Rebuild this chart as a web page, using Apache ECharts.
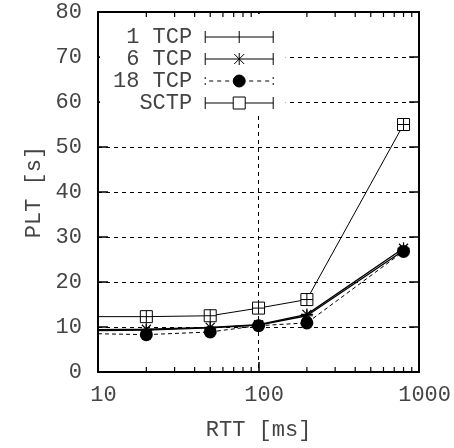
<!DOCTYPE html>
<html>
<head>
<meta charset="utf-8">
<script src="https://cdn.jsdelivr.net/npm/echarts@6/dist/echarts.min.js"></script>
<style>
html,body{margin:0;padding:0;background:#fff;}
#chart{width:454px;height:448px;}
</style>
</head>
<body>
<div id="chart"></div>
<script>
// ---- data ----
const rttValues = [10, 20, 50, 100, 200, 800];
const tcp1 = [9.2, 9.3, 9.8, 10.4, 12.5, 27.0];
const tcp6 = [9.4, 9.5, 9.9, 10.5, 12.8, 27.5];
const tcp18 = [8.5, 8.3, 8.9, 10.3, 10.9, 26.8];
const sctp = [12.3, 12.3, 12.5, 14.2, 16.1, 55.0];
const seriesNames = ['1 TCP', '6 TCP', '18 TCP', 'SCTP'];
const legendLabels = [' 1 TCP', ' 6 TCP', '18 TCP', '  SCTP'];
const minorTickValues = [20, 30, 40, 50, 60, 70, 80, 90, 200, 300, 400, 500, 600, 700, 800, 900];

const FONT = '"Liberation Mono", "DejaVu Sans Mono", monospace';
const TXT = '#444';

function toData(arr) {
  return rttValues.map((x, i) => i === 0 ? { value: [x, arr[i]], symbol: 'none' } : [x, arr[i]]);
}

const symPlus = 'path://M6,0V12M0,6H12';
const symStar = 'path://M6,0V12M0,6H12M1.5,1.5L10.5,10.5M10.5,1.5L1.5,10.5';
const symCircle = 'path://M12,6A6,6 0 1 1 0,6A6,6 0 1 1 12,6Z';
const symSquare = 'path://M0,0H12V12H0ZM6,0V12M0,6H12';

// legend icons (error-bar style)
const iconSolidPlus = 'path://M0,0V12M0,6H68M68,0V12M34,0V12';
const iconSolidStar = 'path://M0,0V12M0,6H68M68,0V12M34,0V12M29,1L39,11M39,1L29,11';
const iconDashedCircle = 'path://M0,2V4M0,8V10M68,2V4M68,8V10M4,6H8M12,6H16M20,6H24M44,6H48M52,6H56M60,6H64M40,6A6,6 0 1 1 28,6A6,6 0 1 1 40,6Z';
const iconSolidSquare = 'path://M0,0V12M0,6H28M40,6H68M68,0V12M28,0H40V12H28Z';

const chart = echarts.init(document.getElementById('chart'), null, { renderer: 'canvas' });

const axisLineStyle = { onZero: false, lineStyle: { color: '#000', width: 2 } };
const dashed = { show: true, showMinLine: false, showMaxLine: false, lineStyle: { color: '#000', width: 1, type: [4, 4] } };

const option = {
  animation: false,
  backgroundColor: '#fff',
  grid: { left: 98, right: 34, top: 12, bottom: 76 },
  legend: {
    orient: 'vertical',
    left: 100,
    top: 14,
    align: 'right',
    backgroundColor: '#fff',
    padding: [12, 10, 0, 13],
    itemGap: 0,
    itemWidth: 68,
    itemHeight: 12,
    textStyle: { fontFamily: FONT, fontSize: 22, color: TXT, lineHeight: 22, padding: [0, 8, 0, 0] },
    formatter: function (name) { return legendLabels[seriesNames.indexOf(name)]; },
    data: [
      { name: '1 TCP', icon: iconSolidPlus, itemStyle: { color: 'none', borderColor: '#000', borderWidth: 1 } },
      { name: '6 TCP', icon: iconSolidStar, itemStyle: { color: 'none', borderColor: '#000', borderWidth: 1 } },
      { name: '18 TCP', icon: iconDashedCircle, itemStyle: { color: '#000', borderColor: '#000', borderWidth: 1 } },
      { name: 'SCTP', icon: iconSolidSquare, itemStyle: { color: '#fff', borderColor: '#000', borderWidth: 1 } }
    ]
  },
  xAxis: [
    {
      type: 'log', logBase: 10, min: 10, max: 1000,
      name: 'RTT [ms]', nameLocation: 'middle', nameGap: 47,
      nameTextStyle: { fontFamily: FONT, fontSize: 22, color: TXT },
      axisLine: axisLineStyle,
      axisTick: { inside: true, length: 10, lineStyle: { color: '#000', width: 1.5 } },
      axisLabel: { fontFamily: FONT, fontSize: 22, color: TXT, margin: 12, padding: [0, 0, 0, 11],
        formatter: function (v) { return String(Math.round(v)); } },
      splitLine: dashed,
      minorTick: { show: false }
    },
    {
      type: 'log', logBase: 10, min: 10, max: 1000, position: 'top',
      axisLine: axisLineStyle,
      axisTick: { inside: true, length: 10, lineStyle: { color: '#000', width: 1.5 } },
      axisLabel: { show: false },
      splitLine: { show: false }
    }
  ],
  yAxis: [
    {
      type: 'value', min: 0, max: 80, interval: 10,
      name: 'PLT [s]', nameLocation: 'middle', nameGap: 52,
      nameTextStyle: { fontFamily: FONT, fontSize: 22, color: TXT },
      axisLine: Object.assign({ show: true }, axisLineStyle),
      axisTick: { show: true, inside: true, length: 10, lineStyle: { color: '#000', width: 1.5 } },
      axisLabel: { fontFamily: FONT, fontSize: 22, color: TXT, margin: 16 },
      splitLine: dashed
    },
    {
      type: 'value', min: 0, max: 80, interval: 10, position: 'right',
      axisLine: Object.assign({ show: true }, axisLineStyle),
      axisTick: { show: true, inside: true, length: 10, lineStyle: { color: '#000', width: 1.5 } },
      axisLabel: { show: false },
      splitLine: { show: false }
    }
  ],
  series: [
    {
      name: 'minor-ticks', type: 'custom', xAxisIndex: 0, yAxisIndex: 0, silent: true, z: 10,
      clip: false,
      data: minorTickValues.map(v => [v]),
      renderItem: function (params, api) {
        const b = api.coord([api.value(0), 0]);
        const t = api.coord([api.value(0), 80]);
        return {
          type: 'group',
          children: [
            { type: 'line', shape: { x1: b[0], y1: b[1], x2: b[0], y2: b[1] - 5 }, style: { stroke: '#000', lineWidth: 1.2 } },
            { type: 'line', shape: { x1: t[0], y1: t[1], x2: t[0], y2: t[1] + 5 }, style: { stroke: '#000', lineWidth: 1.2 } }
          ]
        };
      }
    },
    {
      name: '1 TCP', type: 'line', data: toData(tcp1), z: 3,
      symbol: symPlus, symbolSize: 12,
      lineStyle: { color: '#000', width: 1.3 },
      itemStyle: { color: 'none', borderColor: '#000', borderWidth: 1.2 }
    },
    {
      name: '6 TCP', type: 'line', data: toData(tcp6), z: 4,
      symbol: symStar, symbolSize: 12,
      lineStyle: { color: '#000', width: 1.3 },
      itemStyle: { color: 'none', borderColor: '#000', borderWidth: 1.2 }
    },
    {
      name: '18 TCP', type: 'line', data: toData(tcp18), z: 5,
      symbol: symCircle, symbolSize: 13,
      lineStyle: { color: '#000', width: 1, type: [4, 3] },
      itemStyle: { color: '#000', borderColor: '#000', borderWidth: 0 }
    },
    {
      name: 'SCTP', type: 'line', data: toData(sctp), z: 6,
      symbol: symSquare, symbolSize: 12,
      lineStyle: { color: '#000', width: 1 },
      itemStyle: { color: '#fff', borderColor: '#000', borderWidth: 1 }
    }
  ]
};
chart.setOption(option);
</script>
</body>
</html>
